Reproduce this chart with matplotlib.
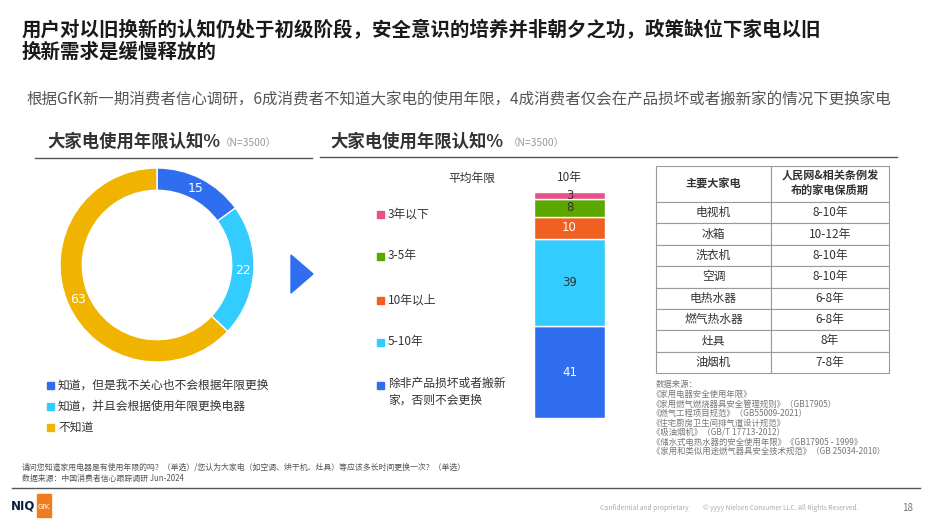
import matplotlib
matplotlib.use("Agg")
import matplotlib.pyplot as plt
from matplotlib.patches import Rectangle, Polygon
import numpy as np

plt.rcParams['font.family'] = ['Noto Sans CJK SC', 'DejaVu Sans']

# data ------------------------------------------------------------------------
donut_labels = ['知道，但是我不关心也不会根据年限更换', '知道，并且会根据使用年限更换电器', '不知道']
donut_values = [15, 22, 63]
donut_colors = ['#2f6fef', '#33ccff', '#f0b400']

bar_labels = ['除非产品损坏或者搬新\n家，否则不会更换', '5-10年', '10年以上', '3-5年', '3年以下']
bar_values = [41, 39, 10, 8, 3]
bar_colors = ['#2f6fef', '#33ccff', '#f06020', '#5aa700', '#e8508a']
bar_text_colors = ['white', '#333333', 'white', '#333333', '#333333']
avg_years = '10年'

table_header = ['主要大家电', '人民网&相关条例发\n布的家电保质期']
appliances = ['电视机', '冰箱', '洗衣机', '空调', '电热水器', '燃气热水器', '灶具', '油烟机']
warranty = ['8-10年', '10-12年', '8-10年', '8-10年', '6-8年', '6-8年', '8年', '7-8年']

sources = ['数据来源：',
           '《家用电器安全使用年限》',
           '《家用燃气燃烧器具安全管理规则》（GB17905）',
           '《燃气工程项目规范》（GB55009-2021）',
           '《住宅厨房卫生间排气道设计规范》',
           '《吸油烟机》（GB/T 17713-2012）',
           '《储水式电热水器的安全使用年限》《GB17905 - 1999》',
           '《家用和类似用途燃气器具安全技术规范》（GB 25034-2010）']

W, H = 933, 524
fig = plt.figure(figsize=(W / 100, H / 100), dpi=100)
bg = fig.add_axes([0, 0, 1, 1])
bg.set_xlim(0, W)
bg.set_ylim(H, 0)
bg.axis('off')


def px_axes(x0, y0, x1, y1):
    # axes from pixel box (top-left origin)
    return fig.add_axes([x0 / W, 1 - y1 / H, (x1 - x0) / W, (y1 - y0) / H])


# titles
bg.text(22, 30, '用户对以旧换新的认知仍处于初级阶段，安全意识的培养并非朝夕之功，政策缺位下家电以旧',
        fontsize=14, fontweight='bold', color='#1a1a1a', va='center')
bg.text(22, 52, '换新需求是缓慢释放的', fontsize=14, fontweight='bold', color='#1a1a1a', va='center')
bg.text(26, 100, '根据GfK新一期消费者信心调研，6成消费者不知道大家电的使用年限，4成消费者仅会在产品损坏或者搬新家的情况下更换家电',
        fontsize=11.2, color='#555555', va='center')

# section headers
for x0, xn in ((47, 220), (330, 508)):
    bg.text(x0, 142, '大家电使用年限认知%', fontsize=12.5, fontweight='bold', color='#333333', va='center')
    bg.text(xn, 143, '（N=3500）', fontsize=7.5, color='#999999', va='center')
bg.plot([35, 312], [158, 158], color='#555555', lw=1)
bg.plot([320, 897], [157, 157], color='#555555', lw=1)

# donut
ax1 = px_axes(60, 168, 254, 362)
ax1.pie(donut_values, colors=donut_colors, startangle=90, counterclock=False,
        wedgeprops=dict(width=0.23, edgecolor='white', linewidth=1))
ax1.set_xlim(-1, 1)
ax1.set_ylim(-1, 1)
ax1.set_aspect('equal')
ax1.axis('off')
ang0 = 90
for v in donut_values:
    mid = ang0 - v * 3.6 / 2
    r = 0.885
    ax1.text(r * np.cos(np.radians(mid)), r * np.sin(np.radians(mid)), str(v),
             color='white', fontsize=9, ha='center', va='center', family='DejaVu Sans')
    ang0 -= v * 3.6

# arrow triangle
bg.add_patch(Polygon([[291, 255], [313, 274], [291, 293]], closed=True, color='#2f6fef'))

# donut legend
for i, (lab, c) in enumerate(zip(donut_labels, donut_colors)):
    y = 385 + i * 21
    bg.add_patch(Rectangle((47, y - 3.5), 7, 7, color=c))
    bg.text(58, y, lab, fontsize=8.5, color='#333333', va='center')

# stacked bar
ax2 = px_axes(534, 192, 605, 418)
bottom = 0
for v, c, tc in zip(bar_values, bar_colors, bar_text_colors):
    ax2.bar([0], [v], bottom=bottom, width=1, color=c, edgecolor='white', linewidth=1)
    ax2.text(0, bottom + v / 2, str(v), ha='center', va='center', color=tc, fontsize=8.5,
             family='DejaVu Sans')
    bottom += v
ax2.set_xlim(-0.5, 0.5)
ax2.set_ylim(0, sum(bar_values))
ax2.axis('off')

bg.text(472, 178, '平均年限', fontsize=8.5, color='#333333', ha='center', va='center')
bg.text(569, 178, avg_years, fontsize=8.5, color='#333333', ha='center', va='center')

legend_y = [385, 342, 300, 256, 214]
for lab, c, y in zip(bar_labels, bar_colors, legend_y):
    bg.add_patch(Rectangle((377, y - 3.5), 7, 7, color=c))
    bg.text(388, y if '\n' not in lab else y + 7, lab, fontsize=8.5, color='#333333',
            va='center', linespacing=1.4)

# table
ax3 = px_axes(656, 166, 889, 373)
cells = [[a, w] for a, w in zip(appliances, warranty)]
tb = ax3.table(cellText=[table_header] + cells, cellLoc='center', bbox=[0, 0, 1, 1],
               colWidths=[115 / 233, 118 / 233])
tb.auto_set_font_size(False)
head_h = 36 / 207
row_h = (1 - head_h) / len(cells)
for (r, c), cell in tb.get_celld().items():
    cell.set_edgecolor('#9a9a9a')
    cell.set_linewidth(0.8)
    cell.set_height(head_h if r == 0 else row_h)
    cell.get_text().set_fontsize(8.5)
    cell.get_text().set_color('#333333')
    if r == 0:
        cell.get_text().set_fontweight('bold')
        cell.get_text().set_fontsize(8)
ax3.axis('off')

for i, s in enumerate(sources):
    bg.text(656 if i == 0 else 652, 385 + i * 9.5, s, fontsize=6, color='#777777', va='center')

# footer
bg.text(22, 467, '请问您知道家用电器是有使用年限的吗？（单选）/您认为大家电（如空调、烘干机、灶具）等应该多长时间更换一次？（单选）',
        fontsize=5.7, color='#555555', va='center')
bg.text(22, 478, '数据来源：中国消费者信心跟踪调研 Jun-2024', fontsize=5.7, color='#555555', va='center')
bg.plot([12, 920], [488, 488], color='#555555', lw=1)
bg.text(11, 506, 'NIQ', fontsize=8.5, fontweight='bold', color='#0b1e3d', va='center', family='DejaVu Sans')
bg.add_patch(Rectangle((37, 494), 14, 23, color='#f07c1c'))
bg.text(44, 507, 'GfK', fontsize=5, color='white', ha='center', va='center', family='DejaVu Sans')
bg.text(600, 508, 'Confidential and proprietary', fontsize=4.8, color='#aaaaaa', va='center')
bg.text(703, 508, '© yyyy Nielsen Consumer LLC. All Rights Reserved.', fontsize=4.8, color='#aaaaaa', va='center')
bg.text(908, 508, '18', fontsize=7, color='#777777', ha='center', va='center')

fig.savefig('out.png', dpi=100)
